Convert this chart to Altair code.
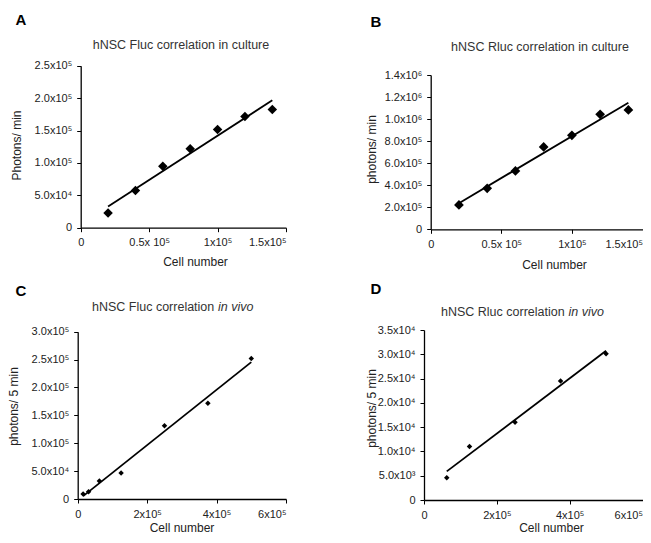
import altair as alt
import pandas as pd

W, H = 635, 527
FONT = "Liberation Sans"

# ---------------- data ----------------
panel_letters = ["A", "B", "C", "D"]
titles_plain = ["hNSC Fluc correlation in culture", "hNSC Rluc correlation in culture",
                "hNSC Fluc correlation ", "hNSC Rluc correlation "]
titles_italic = ["", "", "in vivo", "in vivo"]
y_titles = ["Photons/ min", "photons/ min", "photons/ 5 min", "photons/ 5 min"]
x_title = "Cell number"

a_cells = [20000, 40000, 60000, 80000, 100000, 120000, 140000]
a_photons = [22600, 57500, 95000, 122000, 151500, 171500, 182500]
a_xticks = [0, 50000, 100000, 150000]
a_xlabels = ["0", "0.5x 10⁵", "1x10⁵", "1.5x10⁵"]
a_yticks = [0, 50000, 100000, 150000, 200000, 250000]
a_ylabels = ["0", "5.0x10⁴", "1.0x10⁵", "1.5x10⁵", "2.0x10⁵", "2.5x10⁵"]

b_cells = [20000, 40000, 60000, 80000, 100000, 120000, 140000]
b_photons = [221000, 372000, 529000, 747000, 853000, 1043000, 1083000]
b_xticks = [0, 50000, 100000, 150000]
b_xlabels = ["0", "0.5x 10⁵", "1x10⁵", "1.5x10⁵"]
b_yticks = [0, 200000, 400000, 600000, 800000, 1000000, 1200000, 1400000]
b_ylabels = ["0", "2.0x10⁵", "4.0x10⁵", "6.0x10⁵", "8.0x10⁵", "1.0x10⁶", "1.2x10⁶", "1.4x10⁶"]

c_cells = [15625, 31250, 62500, 125000, 250000, 375000, 500000]
c_photons = [9000, 13200, 32400, 46800, 131400, 171700, 251800]
c_xticks = [0, 200000, 400000, 600000]
c_xlabels = ["0", "2x10⁵", "4x10⁵", "6x10⁵"]
c_yticks = [0, 50000, 100000, 150000, 200000, 250000, 300000]
c_ylabels = ["0", "5.0x10⁴", "1.0x10⁵", "1.5x10⁵", "2.0x10⁵", "2.5x10⁵", "3.0x10⁵"]

d_cells = [62500, 125000, 250000, 375000, 500000]
d_photons = [4600, 11000, 16000, 24500, 30100]
d_xticks = [0, 200000, 400000, 600000]
d_xlabels = ["0", "2x10⁵", "4x10⁵", "6x10⁵"]
d_yticks = [0, 5000, 10000, 15000, 20000, 25000, 30000, 35000]
d_ylabels = ["0", "5.0x10³", "1.0x10⁴", "1.5x10⁴", "2.0x10⁴", "2.5x10⁴", "3.0x10⁴", "3.5x10⁴"]


def label_expr(ticks, labels):
    expr = "''"
    for t, l in reversed(list(zip(ticks, labels))):
        expr = f"datum.value == {t} ? '{l}' : ({expr})"
    return expr


def panel(cells, photons, xt, xl, yt, yl, xr, yr, msize, xtitle_xy, ytitle_txt, ytitle_xy):
    df = pd.DataFrame({"cells": cells, "photons": photons})
    xs = alt.Scale(domain=[xt[0], xt[-1]], range=xr, nice=False, zero=False)
    ys = alt.Scale(domain=[yt[0], yt[-1]], range=yr, nice=False, zero=False)
    common = dict(grid=False, domainColor="black", domainWidth=1.3, tickColor="black",
                  tickWidth=1, tickSize=4, labelFont=FONT, labelFontSize=11,
                  labelColor="#222", titleFont=FONT, titleFontSize=12,
                  titleFontWeight="normal", titleColor="#222")
    xaxis = alt.Axis(orient="bottom", offset=yr[0] - H, values=xt,
                     labelExpr=label_expr(xt, xl), labelFlush=False,
                     labelAlign={"condition": {"test": f"datum.value == {xt[-1]}", "value": "right"},
                                 "value": "center"},
                     labelPadding=5, title=x_title, titleX=xtitle_xy[0], titleY=xtitle_xy[1],
                     titleAlign="center", titleBaseline="alphabetic", **common)
    yaxis = alt.Axis(orient="left", offset=-xr[0], values=yt,
                     labelExpr=label_expr(yt, yl), labelPadding=5, labelFlush=False,
                     title=ytitle_txt, titleX=ytitle_xy[0], titleY=ytitle_xy[1],
                     titleAngle=270, titleAlign="center", titleBaseline="middle", **common)
    pts = alt.Chart(df).mark_point(shape="diamond", filled=True, size=msize, color="black",
                                   opacity=1).encode(
        x=alt.X("cells:Q", scale=xs, axis=xaxis),
        y=alt.Y("photons:Q", scale=ys, axis=yaxis),
    )
    line = alt.Chart(df).transform_regression("cells", "photons").mark_line(
        color="black", strokeWidth=1.8).encode(
        x=alt.X("cells:Q", scale=xs, axis=None),
        y=alt.Y("photons:Q", scale=ys, axis=None),
    )
    return [line, pts]


def text(txt, x, y, size, weight="normal", style="normal", align="center", color="#222"):
    return alt.Chart(pd.DataFrame({"t": [txt]})).mark_text(
        align=align, baseline="middle", fontSize=size, fontWeight=weight,
        fontStyle=style, font=FONT, color=color).encode(
        x=alt.value(x), y=alt.value(y), text="t:N")


layers = []
layers += panel(a_cells, a_photons, a_xticks, a_xlabels, a_yticks, a_ylabels,
                [72.7, 278], [219.7, 57.7], 90, (187, 37.6), y_titles[0], (-63.7, 137))
layers += panel(b_cells, b_photons, b_xticks, b_xlabels, b_yticks, b_ylabels,
                [422.7, 634.5], [221.3, 67], 95, (546, 39), y_titles[1], (-59.7, 141))
layers += panel(c_cells, c_photons, c_xticks, c_xlabels, c_yticks, c_ylabels,
                [69.7, 278], [491, 323.7], 30, (173.5, 32.5), y_titles[2], (-64.2, 398))
layers += panel(d_cells, d_photons, d_xticks, d_xlabels, d_yticks, d_ylabels,
                [416, 634.5], [492, 322], 30, (543, 31.5), y_titles[3], (-52.3, 400))

# panel letters
layers += [text(panel_letters[0], 13, 12, 15, weight="bold", color="black"),
           text(panel_letters[1], 368, 14, 15, weight="bold", color="black"),
           text(panel_letters[2], 13, 283, 15, weight="bold", color="black"),
           text(panel_letters[3], 368, 281, 15, weight="bold", color="black")]
# panel titles
layers += [text(titles_plain[0], 173, 37, 12.5, color="#333"),
           text(titles_plain[1], 532, 39, 12.5, color="#333"),
           text(titles_plain[2], 84, 299, 12.5, align="left", color="#333"),
           text(titles_italic[2], 84 + 126, 299, 12.5, style="italic", align="left", color="#333"),
           text(titles_plain[3], 433, 304, 12.5, align="left", color="#333"),
           text(titles_italic[3], 433 + 127.5, 304, 12.5, style="italic", align="left", color="#333")]

chart = alt.layer(*layers).resolve_scale(x="independent", y="independent").resolve_axis(
    x="independent", y="independent").properties(
    width=W, height=H, padding=0, autosize=alt.AutoSizeParams(type="none"),
    background="white").configure_view(stroke=None)

chart.save("out.html", embed_options={"renderer": "svg", "actions": False})
